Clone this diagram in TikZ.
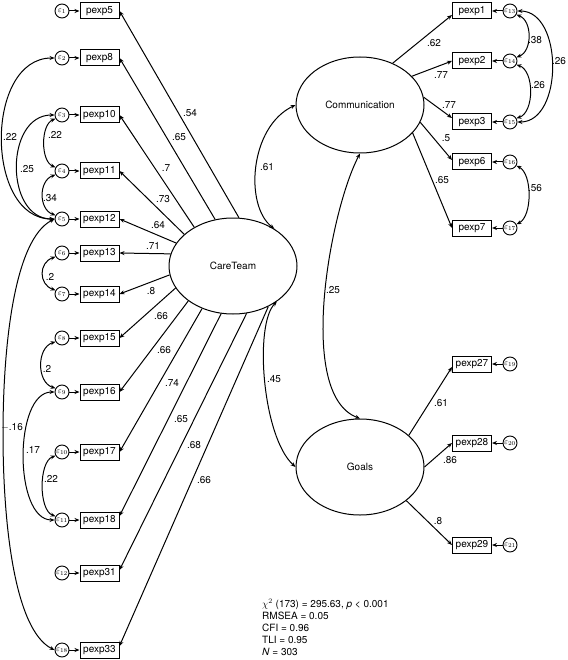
\documentclass[tikz,border=0pt]{standalone}
\usepackage{fontspec}
\setmainfont{TeX Gyre Heros}
\usetikzlibrary{arrows.meta,shapes.geometric}
\begin{document}
\begin{tikzpicture}[x=1pt,y=-1pt,
  obs/.style={draw, line width=1pt, minimum width=39pt, minimum height=16pt, inner sep=0pt, font=\fontsize{10}{11}\selectfont},
  err/.style={draw, circle, line width=0.9pt, minimum size=14pt, inner sep=0pt, font=\fontsize{8.5}{8.5}\selectfont},
  lat/.style={draw, ellipse, line width=1pt, minimum width=128pt, minimum height=96pt, inner sep=0pt, font=\fontsize{10}{11}\selectfont},
  ld/.style={line width=1pt, -{Stealth[length=5pt,width=4pt]}},
  cv/.style={line width=1pt, {Stealth[length=5pt,width=4pt]}-{Stealth[length=5pt,width=4pt]}},
  lbl/.style={inner sep=0pt, font=\fontsize{10}{11}\selectfont}
]
\useasboundingbox (0,0) rectangle (567,660);

% left indicators
\foreach \n/\y/\e in {5/11/1, 8/58/2, 10/115/3, 11/171/4, 12/219/5, 13/253/6, 14/294/7, 15/338/8, 16/392/9, 17/452/10, 18/520/11, 31/573/12, 33/650/18} {
  \node[obs] (p\n) at (99.5,\y) {pexp\n};
  \node[err] (e\e) at (62,\y) {$\varepsilon_{\e}$};
  \draw[ld] (e\e) -- (p\n);
}
% right indicators
\foreach \n/\y/\e in {1/11/13, 2/61/14, 3/122/15, 6/162/16, 7/228/17, 27/364/19, 28/443/20, 29/545/21} {
  \node[obs] (p\n) at (472,\y) {pexp\n};
  \node[err] (e\e) at (510,\y) {$\varepsilon_{\e}$};
  \draw[ld] (e\e) -- (p\n);
}

% latent variables
\node[lat] (ct) at (233,266) {CareTeam};
\node[lat] (cm) at (360,105) {Communication};
\node[lat] (gl) at (360,467) {Goals};

% CareTeam loadings
\draw[ld] (ct.83) -- (p5.east);
\draw[ld] (ct.111) -- (p8.east);
\draw[ld] (ct.135) -- (p10.east);
\draw[ld] (ct.147) -- (p11.east);
\draw[ld] (ct.158) -- (p12.east);
\draw[ld] (ct.169) -- (p13.east);
\draw[ld] (ct.188) -- (p14.east);
\draw[ld] (ct.201) -- (p15.east);
\draw[ld] (ct.218) -- (p16.east);
\draw[ld] (ct.234) -- (p17.east);
\draw[ld] (ct.256) -- ([yshift=4pt]p18.east);
\draw[ld] (ct.286) -- ([yshift=3pt]p31.east);
\draw[ld] (ct.311) -- ([yshift=4pt]p33.east);

% Communication loadings
\draw[ld] (cm.52) -- ([yshift=-4pt]p1.west);
\draw[ld] (cm.29.5) -- (p2.west);
\draw[ld] (cm.7) -- ([yshift=4pt]p3.west);
\draw[ld] (cm.344) -- ([yshift=2pt]p6.west);
\draw[ld] (cm.332) -- (p7.west);

% Goals loadings
\draw[ld] (gl.33) -- ([yshift=-3pt]p27.west);
\draw[ld] (gl.0) -- (p28.west);
\draw[ld] (gl.324) -- (p29.west);

% latent covariances
\draw[cv] (ct.42) .. controls +(-30,-23) and +(-46,22) .. (cm.west);
\draw[cv] (ct.321) .. controls +(-23,23) and +(-33,-30) .. (gl.west);
\draw[cv] (cm.south) .. controls +(-30,57) and +(-64,-24) .. (gl.north);

% left error covariances
\draw[cv] (e2.west) .. controls +(-70,0) and +(-70,0) .. (e5.west);
\draw[cv] (e3.west) .. controls +(-50,0) and +(-50,0) .. (e5.west);
\draw[cv] (e3.210) .. controls +(-15,6) and +(-15,-6) .. (e4.150);
\draw[cv] (e4.210) .. controls +(-17,6) and +(-17,-6) .. (e5.150);
\draw[cv] (e6.210) .. controls +(-17,6) and +(-17,-6) .. (e7.150);
\draw[cv] (e8.210) .. controls +(-19,6) and +(-19,-6) .. (e9.150);
\draw[cv] (e10.210) .. controls +(-17,6) and +(-17,-6) .. (e11.150);
\draw[cv] (e9.west) .. controls +(-41,0) and +(-41,0) .. (e11.west);
\coordinate (m16) at (3,434);
\draw[cv] (e5.west) .. controls +(-40,20) and +(0,-90) .. (m16) .. controls +(0,90) and +(-40,-20) .. (e18.west);

% right error covariances
\draw[cv] (e13.330) .. controls +(16,6) and +(16,-6) .. (e14.30);
\draw[cv] (e14.330) .. controls +(18,6) and +(18,-6) .. (e15.30);
\draw[cv] (e13.east) .. controls +(46,0) and +(46,0) .. (e15.east);
\draw[cv] (e16.330) .. controls +(16,8) and +(16,-8) .. (e17.30);

% loading labels (left)
\node[lbl] (l5) at (190,113) {.54};
\node[lbl] (l8) at (179,137) {.65};
\node[lbl] (l10) at (166,168) {.7};
\node[lbl] (l11) at (163,199) {.73};
\node[lbl] (l12) at (158,225) {.64};
\node[lbl] (l13) at (153,246) {.71};
\node[lbl] (l14) at (151,291) {.8};
\node[lbl] (l15) at (161,316) {.66};
\node[lbl] (l16) at (164,350) {.66};
\node[lbl] (l17) at (172,383) {.74};
\node[lbl] (l18) at (181,419) {.65};
\node[lbl] (l31) at (194,445) {.68};
\node[lbl] (l33) at (204,480) {.66};
% loading labels (right)
\node[lbl] (l1) at (434,43) {.62};
\node[lbl] (l2) at (441,75) {.77};
\node[lbl] (l3) at (449,105) {.77};
\node[lbl] (l6) at (446,138) {.5};
\node[lbl] (l7) at (442,180) {.65};
\node[lbl] (l27) at (441,403) {.61};
\node[lbl] (l28) at (450,460) {.86};
\node[lbl] (l29) at (438,521) {.8};
% covariance labels
\node[lbl] (c1) at (267,167) {.61};
\node[lbl] (c2) at (333,290) {.25};
\node[lbl] (c3) at (274,379) {.45};
\node[lbl] (c25a) at (10,137) {.22};
\node[lbl] (c34) at (55,135) {.22};
\node[lbl] (c35) at (27,169) {.25};
\node[lbl] (c45) at (50,198) {.34};
\node[lbl] (c67) at (50,277) {.2};
\node[lbl] (c89) at (47,369) {.2};
\node[lbl] (c518) at (12,427) {$-$.16};
\node[lbl] (c911) at (33,450) {.17};
\node[lbl] (c1011) at (51,479) {.22};
\node[lbl] (r1314) at (535,40) {.38};
\node[lbl] (r1415) at (538,85) {.26};
\node[lbl] (r1315) at (559,61) {.26};
\node[lbl] (r1617) at (535,188) {.56};

% fit statistics
\node[anchor=north west, align=left, inner sep=0pt, font=\fontsize{10}{12}\selectfont] (fit) at (262,599)
  {$\chi^2$ (173) = 295.63, \textit{p} < 0.001\\ RMSEA = 0.05\\ CFI = 0.96\\ TLI = 0.95\\ \textit{N} = 303};
\end{tikzpicture}
\end{document}
